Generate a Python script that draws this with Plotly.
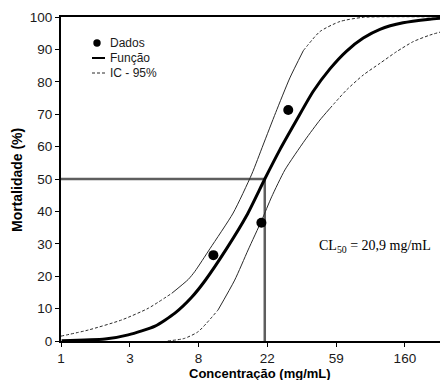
import math
import plotly.graph_objects as go

# ---------------- data ----------------
dados_conc = [9.9, 19.9, 29.4]
dados_mort = [26.5, 36.5, 71.3]

func_conc = [1.09, 2.05, 2.87, 4.24, 5.66, 7.22, 8.76, 12.0, 16.1, 20.9, 26.0, 33.2,
             42.2, 53.9, 68.7, 87.5, 111.5, 156, 230, 300]
func_mort = [0.1, 0.6, 1.9, 4.6, 8.6, 13.5, 18.6, 28.5, 38.8, 50.0, 59.0, 68.2,
             77.0, 84.0, 89.5, 93.5, 96.2, 98.2, 99.3, 99.8]

ic_sup_conc = [1.08, 1.61, 2.61, 3.84, 5.40, 6.87, 7.57, 9.42, 13.2, 17.3, 20.4, 24.5,
               30.1, 36.6, 46.6, 62.3, 87.5, 300]
ic_sup_mort = [1.5, 3.4, 6.5, 10.1, 14.7, 19.0, 21.5, 28.5, 39.5, 51.5, 60.5, 70.5,
               81.2, 89.6, 95.5, 98.6, 99.9, 100]

ic_inf_conc = [5.1, 6.5, 7.95, 10.6, 13.5, 16.4, 20.0, 23.1, 28.0, 37.5, 46.6, 53.9,
               68.7, 87.5, 111.5, 142, 181, 230, 300]
ic_inf_mort = [0.0, 0.8, 2.9, 9.6, 18.8, 28.1, 37.3, 44.5, 52.8, 62.0, 68.2, 71.8,
               77.5, 82.1, 85.7, 89.3, 92.4, 94.4, 96.0]

cl50 = 20.9
cl50_mort = 50
x_min, x_max = 1.08, 300

tick_vals = [1.08, 2.94, 7.98, 21.7, 59.0, 160.3]
tick_text = ["1", "3", "8", "22", "59", "160"]

legend_labels = ["Dados", "Função", "IC - 95%"]

# ---------------- layout helpers ----------------
# the page adds an 8px body margin, so the figure itself is 8px smaller
OFF = 8
W, H = 448 - OFF, 380 - OFF
ML, MR, MT, MB = 61 - OFF, 0, 17 - OFF, 39
PW, PH = W - ML - MR, H - MT - MB


def px(xp):  # page pixel -> paper x
    return (xp - OFF - ML) / PW


def py(yp):  # page pixel -> paper y
    return (H - MB - (yp - OFF)) / PH


fig = go.Figure()

# reference lines at CL50
fig.add_trace(go.Scatter(x=[x_min, cl50, cl50], y=[cl50_mort, cl50_mort, 0],
                         mode="lines", line=dict(color="#5e5e5e", width=2.5),
                         hoverinfo="skip", showlegend=False))

# confidence interval: dashed tails, thin solid middle
ci_color = "#2a2a2a"


def ci_traces(xs, ys, i0, i1):
    parts = [(0, i0 + 1, "3px,2px"), (i0, i1 + 1, "solid"), (i1, len(xs), "3px,2px")]
    for a, b, d in parts:
        fig.add_trace(go.Scatter(x=xs[a:b], y=ys[a:b], mode="lines", name="IC - 95%",
                                 line=dict(color=ci_color, width=1, dash=d,
                                           shape="spline", smoothing=0.6),
                                 showlegend=False))


ci_traces(ic_sup_conc, ic_sup_mort, 4, 13)
ci_traces(ic_inf_conc, ic_inf_mort, 3, 11)

# fitted function
fig.add_trace(go.Scatter(x=func_conc, y=func_mort, mode="lines", name="Função",
                         line=dict(color="black", width=3, shape="spline", smoothing=0.6),
                         showlegend=False))

# data points
fig.add_trace(go.Scatter(x=dados_conc, y=dados_mort, mode="markers", name="Dados",
                         marker=dict(color="black", size=10),
                         showlegend=False))

# ---------------- custom legend ----------------
shapes = [
    dict(type="circle", xref="paper", yref="paper",
         x0=px(93.3), x1=px(100.7), y0=py(46.7), y1=py(39.3),
         fillcolor="black", line=dict(color="black", width=0)),
    dict(type="line", xref="paper", yref="paper",
         x0=px(92), x1=px(105), y0=py(58), y1=py(58),
         line=dict(color="black", width=2)),
    dict(type="line", xref="paper", yref="paper",
         x0=px(92), x1=px(105), y0=py(73), y1=py(73),
         line=dict(color=ci_color, width=1, dash="3px,2px")),
]

annotations = []
for lab, ypos in zip(legend_labels, [43, 58, 73]):
    annotations.append(dict(text=lab, xref="paper", yref="paper", x=px(108), y=py(ypos),
                            xanchor="left", yanchor="middle", showarrow=False,
                            font=dict(family="Liberation Sans, Arial", size=12, color="#1a1a1a")))

annotations.append(dict(text="CL<sub>50</sub> = 20,9 mg/mL", xref="paper", yref="paper",
                        x=px(374.5), y=py(246), xanchor="center", yanchor="middle",
                        showarrow=False,
                        font=dict(family="Liberation Serif, Times New Roman", size=14, color="black")))

annotations.append(dict(text="<b>Concentração (mg/mL)</b>", xref="paper", yref="paper",
                        x=px(260), y=py(373), xanchor="center", yanchor="middle",
                        showarrow=False,
                        font=dict(family="Liberation Sans, Arial", size=13, color="black")))

annotations.append(dict(text="<b>Mortalidade (%)</b>", xref="paper", yref="paper",
                        x=px(17), y=py(180), xanchor="center", yanchor="middle",
                        textangle=-90, showarrow=False,
                        font=dict(family="Liberation Sans, Arial", size=14, color="black")))

fig.update_layout(
    width=W, height=H,
    margin=dict(l=ML, r=MR, t=MT, b=MB, pad=0),
    plot_bgcolor="white", paper_bgcolor="white",
    shapes=shapes, annotations=annotations,
    showlegend=False,
)

fig.update_xaxes(type="log", range=[math.log10(x_min), math.log10(x_max)],
                 tickvals=tick_vals, ticktext=tick_text,
                 ticks="outside", ticklen=4, tickwidth=1, tickcolor="black",
                 showline=True, linecolor="black", linewidth=2, mirror=True,
                 showgrid=False, zeroline=False,
                 tickfont=dict(family="Liberation Sans, Arial", size=13.5, color="#1a1a1a"))

fig.update_yaxes(range=[0, 100], dtick=10,
                 ticks="outside", ticklen=4, tickwidth=1, tickcolor="black",
                 showline=True, linecolor="black", linewidth=2,
                 showgrid=False, zeroline=False,
                 tickfont=dict(family="Liberation Sans, Arial", size=13.5, color="#1a1a1a"))

fig.write_html("out.html")
